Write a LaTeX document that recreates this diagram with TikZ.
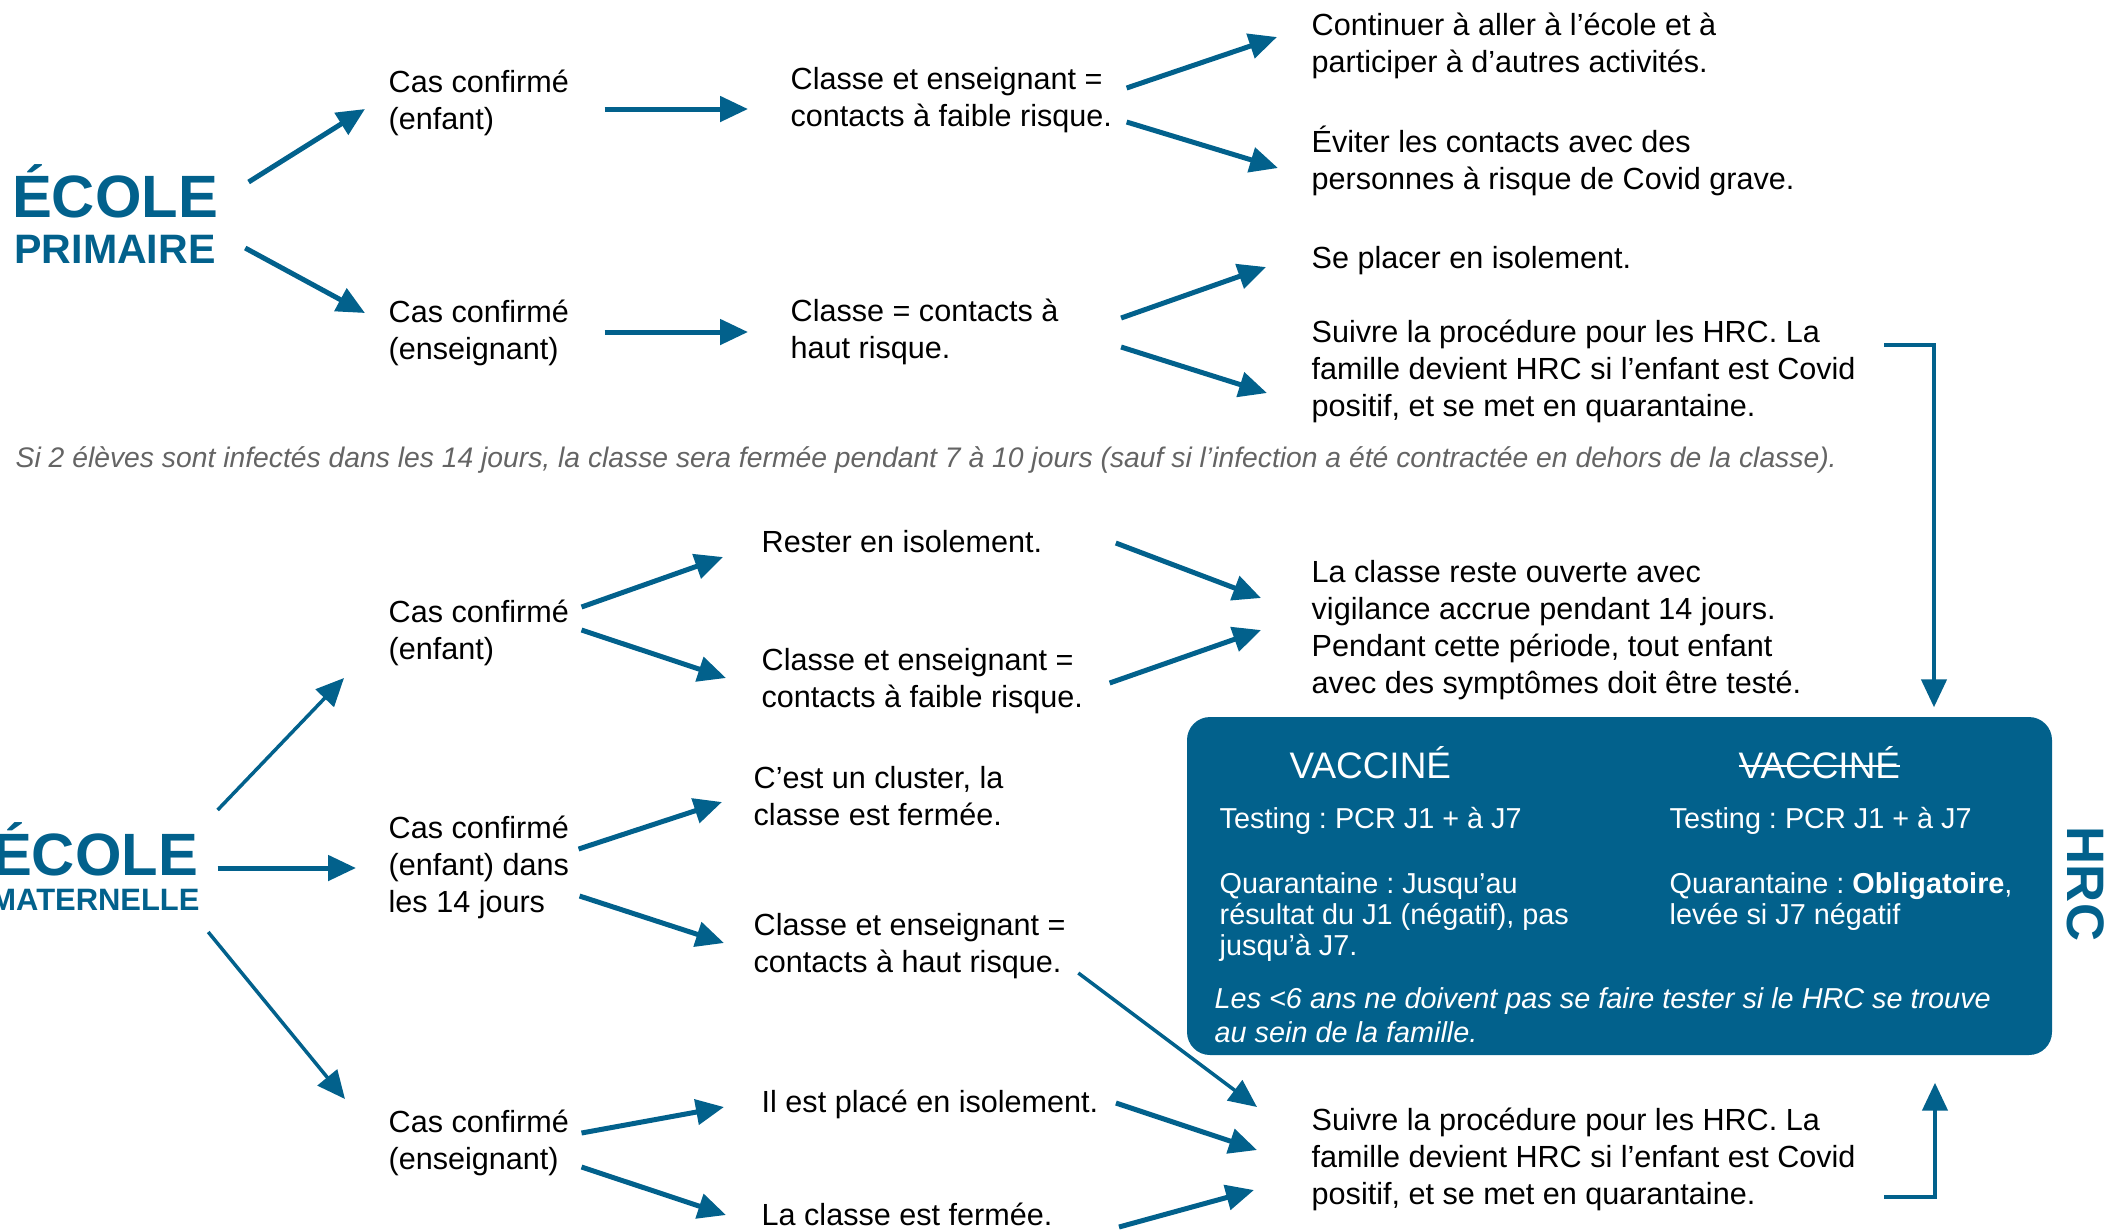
\documentclass[tikz,border=0pt]{standalone}
\usepackage{fontspec}
\setmainfont{Liberation Sans}
\usetikzlibrary{positioning,arrows.meta}
\definecolor{hrcblue}{RGB}{2,97,140}
\definecolor{notegray}{RGB}{100,100,100}
\tikzset{
  txt/.style={anchor=base west, align=left, inner sep=0pt,
              font=\fontsize{8.7}{10.5}\selectfont},
  ecole/.style={anchor=base, inner sep=0pt, text=hrcblue,
                font=\fontsize{17}{17}\selectfont\bfseries},
  ecolesub/.style={ecole, font=\fontsize{11.7}{11.7}\selectfont\bfseries},
  arr/.style={-{Stealth[length=2.8mm,width=2.5mm,inset=0pt]}, draw=hrcblue,
              line width=0.5mm},
  thinarr/.style={arr, line width=0.35mm},
  elbow/.style={arr, line width=0.45mm},
  boxtxt/.style={anchor=base west, align=left, inner sep=0pt, text=white,
                 font=\fontsize{8.2}{8.8}\selectfont},
  vacc/.style={boxtxt, font=\fontsize{10.5}{10.5}\selectfont},
}
\newsavebox{\strkbox}
\newcommand{\strk}[1]{\sbox{\strkbox}{#1}\rlap{\rule[0.3em]{\wd\strkbox}{0.06em}}\usebox{\strkbox}}
\newcommand{\ColCas}{388}
\newcommand{\ColMid}{790}
\newcommand{\ColMat}{761}
\newcommand{\ColEnd}{1311}
\newcommand{\ColBox}{1219}
\newcommand{\ColBoxR}{1669}

\begin{document}
\frenchspacing
\begin{tikzpicture}[x=0.1mm, y=-0.1mm]
  \useasboundingbox (0,0) rectangle (2107,1230);
  \clip (0,0) rectangle (2107,1230);

  % école primaire (nodes sit on the baseline of their last line)
  \node[ecole] (epEcole) at (115,217) {ÉCOLE};
  \node[ecolesub] (epPrim) at (115,263) {PRIMAIRE};

  \node[txt] (cpE) at (\ColCas,129) {Cas confirmé\\(enfant)};
  \node[txt] (cpS) at (\ColCas,359) {Cas confirmé\\(enseignant)};
  \node[txt] (cpF) at (\ColMid,126) {Classe et enseignant =\\contacts à faible risque.};
  \node[txt] (cpH) at (\ColMid,358) {Classe = contacts à\\haut risque.};
  \node[txt] (cpCont) at (\ColEnd,72) {Continuer à aller à l’école et à\\participer à d’autres activités.};
  \node[txt] (cpEvit) at (\ColEnd,189) {Éviter les contacts avec des\\personnes à risque de Covid grave.};
  \node[txt] (cpIso) at (\ColEnd,268) {Se placer en isolement.};
  \node[txt] (cpHRC) at (\ColEnd,416) {Suivre la procédure pour les HRC. La\\famille devient HRC si l’enfant est Covid\\positif, et se met en quarantaine.};

  \node[txt, text=notegray, font=\fontsize{8.05}{9}\selectfont\itshape] (note) at (15,467)
    {Si 2 élèves sont infectés dans les 14 jours, la classe sera fermée pendant 7 à 10 jours (sauf si l’infection a été contractée en dehors de la classe).};

  \draw[arr] ([shift={(30,-35)}]epEcole.base east) -- ([shift={(-23,-20)}]cpE.base west);
  \draw[arr] ([shift={(29,-15)}]epPrim.base east) -- ([shift={(-23,-46)}]cpS.base west);
  \draw[arr] ([shift={(35,-20)}]cpE.base east) -- ([shift={(-42,-17)}]cpF.base west);
  \draw[arr] ([shift={(35,-27)}]cpS.base east) -- ([shift={(-42,-26)}]cpH.base west);
  \draw[arr] ([shift={(14,-38)}]cpF.base east) -- ([shift={(-34,-35)}]cpCont.base west);
  \draw[arr] ([shift={(14,-4)}]cpF.base east) -- ([shift={(-33,-21)}]cpEvit.base west);
  \draw[arr] ([shift={(62,-40)}]cpH.base east) -- ([shift={(-45,-1)}]cpIso.base west);
  \draw[arr] ([shift={(62,-11)}]cpH.base east) -- ([shift={(-44,-23)}]cpHRC.base west);

  % école maternelle
  \node[ecole] (mtEcole) at (95,875) {ÉCOLE};
  \node[ecolesub, font=\fontsize{8.8}{8.8}\selectfont\bfseries] (mtMat) at (95,910) {MATERNELLE};

  \node[txt] (mtE) at (\ColCas,659) {Cas confirmé\\(enfant)};
  \node[txt] (mtC) at (\ColCas,912) {Cas confirmé\\(enfant) dans\\les 14 jours};
  \node[txt] (mtS) at (\ColCas,1169) {Cas confirmé\\(enseignant)};
  \node[txt] (mtIso) at (\ColMat,552) {Rester en isolement.};
  \node[txt] (mtF) at (\ColMat,707) {Classe et enseignant =\\contacts à faible risque.};
  \node[txt] (mtClu) at (753,825) {C’est un cluster, la\\classe est fermée.};
  \node[txt] (mtH) at (753,972) {Classe et enseignant =\\contacts à haut risque.};
  \node[txt] (mtIsoT) at (\ColMat,1112) {Il est placé en isolement.};
  \node[txt] (mtFerm) at (\ColMat,1225) {La classe est fermée.};
  \node[txt] (mtOpen) at (\ColEnd,693) {La classe reste ouverte avec\\vigilance accrue pendant 14 jours.\\Pendant cette période, tout enfant\\avec des symptômes doit être testé.};
  \node[txt] (mtHRC) at (\ColEnd,1204) {Suivre la procédure pour les HRC. La\\famille devient HRC si l’enfant est Covid\\positif, et se met en quarantaine.};

  \draw[thinarr] ([shift={(19,-65)}]mtEcole.base east) -- ([shift={(-44,19)}]mtE.base west);
  \draw[arr] ([shift={(19,-7)}]mtEcole.base east) -- ([shift={(-32,-44)}]mtC.base west);
  \draw[thinarr] ([shift={(8,22)}]mtMat.base east) -- ([shift={(-43,-70)}]mtS.base west);
  \draw[arr] ([shift={(12,-52)}]mtE.base east) -- ([shift={(-38,5)}]mtIso.base west);
  \draw[arr] ([shift={(12,-29)}]mtE.base east) -- ([shift={(-35,-29)}]mtF.base west);
  \draw[arr] ([shift={(73,-9)}]mtIso.base east) -- ([shift={(-50,-95)}]mtOpen.base west);
  \draw[arr] ([shift={(26,-24)}]mtF.base east) -- ([shift={(-50,-63)}]mtOpen.base west);
  \draw[arr] ([shift={(9,-63)}]mtC.base east) -- ([shift={(-31,-23)}]mtClu.base west);
  \draw[arr] ([shift={(10,-16)}]mtC.base east) -- ([shift={(-29,-29)}]mtH.base west);
  \draw[thinarr] ([shift={(12,1)}]mtH.base east) -- ([shift={(-54,-97)}]mtHRC.base west);
  \draw[arr] ([shift={(12,-36)}]mtS.base east) -- ([shift={(-37,-5)}]mtIsoT.base west);
  \draw[arr] ([shift={(12,-2)}]mtS.base east) -- ([shift={(-35,-10)}]mtFerm.base west);
  \draw[arr] ([shift={(17,-9)}]mtIsoT.base east) -- ([shift={(-54,-54)}]mtHRC.base west);
  \draw[arr] ([shift={(66,2)}]mtFerm.base east) -- ([shift={(-57,-14)}]mtHRC.base west);

  % HRC
  \node[fill=hrcblue, rounded corners=2.3mm, minimum width=86.5mm,
        minimum height=33.8mm, inner sep=0pt] (hrcBox) at (1619.5,886) {};
  \node[vacc] (vacA) at (1289,778) {VACCINÉ};
  \node[vacc] (vacB) at (1738,778) {\strk{VACCINÉ}};
  \node[boxtxt] (tstA) at (\ColBox,828) {Testing : PCR J1 + à J7};
  \node[boxtxt] (tstB) at (\ColBoxR,828) {Testing : PCR J1 + à J7};
  \node[boxtxt] (qrA) at (\ColBox,955) {Quarantaine : Jusqu’au\\résultat du J1 (négatif), pas\\jusqu’à J7.};
  \node[boxtxt] (qrB) at (\ColBoxR,924) {Quarantaine : \textbf{Obligatoire},\\levée si J7 négatif};
  \node[boxtxt, font=\fontsize{8.2}{9.6}\selectfont\itshape] (kids) at (1214,1042)
    {Les <6 ans ne doivent pas se faire tester si le HRC se trouve\\au sein de la famille.};
  \node[rotate=-90, inner sep=0pt, text=hrcblue, font=\fontsize{15}{15}\selectfont\bfseries]
    (hrcLbl) at (2086,884) {HRC};

  \draw[elbow] ([shift={(28,-71)}]cpHRC.base east) -| ([shift={(314.5,-9)}]hrcBox.north);
  \draw[elbow] ([shift={(28,-7)}]mtHRC.base east) -| ([shift={(315.5,27)}]hrcBox.south);
\end{tikzpicture}
\end{document}
